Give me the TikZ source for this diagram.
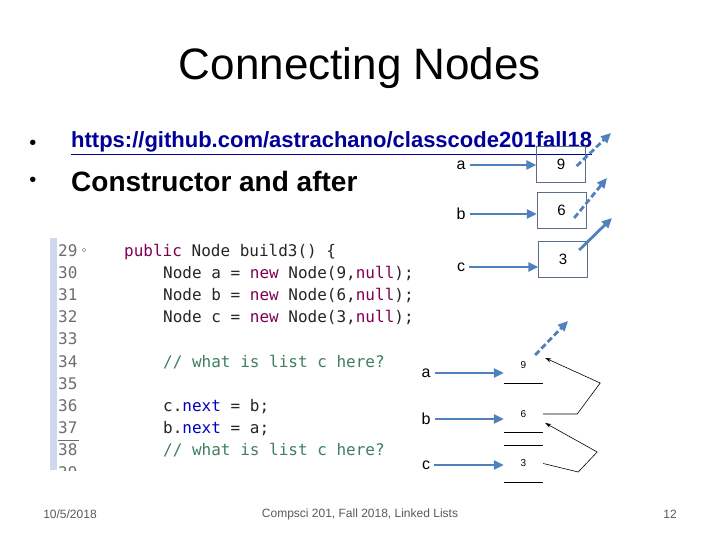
\documentclass[tikz,border=0pt]{standalone}
\usepackage{fontspec}
\setmainfont{Liberation Sans}
\setmonofont{DejaVu Sans Mono}
\usetikzlibrary{arrows.meta}
\definecolor{arrowblue}{RGB}{79,129,189}
\definecolor{boxgray}{RGB}{90,110,140}
\definecolor{kw}{RGB}{127,0,85}
\definecolor{fld}{RGB}{0,0,192}
\definecolor{cmt}{RGB}{63,127,95}
\definecolor{lnum}{RGB}{110,110,110}
\definecolor{lnk}{RGB}{0,0,153}
\definecolor{footgray}{RGB}{90,90,90}
\definecolor{gutter}{RGB}{205,218,238}

\begin{document}
\begin{tikzpicture}[x=1pt, y=-1pt,
    ptr/.style={-{Triangle[length=10pt,width=9pt]}, line width=2.8pt, draw=arrowblue},
    nxt/.style={ptr, dash pattern=on 6pt off 3pt},
    cell/.style={draw=boxgray, minimum width=49pt, minimum height=36pt, inner sep=0pt, font=\fontsize{15}{17}\selectfont},
    var/.style={font=\fontsize{16}{18}\selectfont, inner sep=0pt},
    slot/.style={minimum width=39pt, minimum height=36pt, inner sep=0pt, font=\fontsize{10}{12}\selectfont},
    back/.style={-{Stealth[length=6pt,width=4pt]}, line width=0.6pt},
    code/.style={anchor=base west, inner sep=0pt, font=\ttfamily\fontsize{16}{18}\selectfont, text=black!85},
    foot/.style={font=\fontsize{12}{14}\selectfont, text=footgray}]
  \useasboundingbox (0,0) rectangle (720,540);
  \fill[white] (0,0) rectangle (720,540);

  % title and bullets
  \node[font=\fontsize{44}{50}\selectfont] (title) at (360,68) {Connecting Nodes};
  \node[font=\fontsize{20}{22}\selectfont] (d1) at (33,145) {•};
  \node[anchor=west, inner sep=0pt, font=\bfseries\fontsize{22}{26}\selectfont, text=lnk] (url) at (71,143) {\underline{https://github.com/astrachano/classcode201fall18}};
  \node[font=\fontsize{20}{22}\selectfont] (d2) at (33,182) {•};
  \node[anchor=west, inner sep=0pt, font=\bfseries\fontsize{28}{32}\selectfont] (sub) at (71,181) {Constructor and after};

  % code listing
  \begin{scope}
    \clip (40,236) rectangle (430,470);
    \fill[gutter] (50,238) rectangle (57,470);
    \foreach \n [count=\i from 0] in {29,...,39}
      \node[code, text=lnum] (l\n) at (58,256+22.2*\i) {\n};
  \end{scope}
  \draw[lnum] (84,250) circle (1.8);
  \draw[lnum, line width=0.8pt] (58,440) -- (79,440);
  \node[code] (c29) at (124,256) {\textcolor{kw}{public} Node build3() \{};
  \node[code] (c30) at (163,278.2) {Node a = \textcolor{kw}{new} Node(9,\textcolor{kw}{null});};
  \node[code] (c31) at (163,300.4) {Node b = \textcolor{kw}{new} Node(6,\textcolor{kw}{null});};
  \node[code] (c32) at (163,322.6) {Node c = \textcolor{kw}{new} Node(3,\textcolor{kw}{null});};
  \node[code, text=cmt] (c34) at (163,367) {// what is list c here?};
  \node[code] (c36) at (163,411.4) {c.\textcolor{fld}{next} = b;};
  \node[code] (c37) at (163,433.6) {b.\textcolor{fld}{next} = a;};
  \node[code, text=cmt] (c38) at (163,455.8) {// what is list c here?};

  % after the constructor
  \node[var] (ta) at (461,165) {a};
  \node[var] (tb) at (461,214) {b};
  \node[var] (tc) at (461,267) {c};
  \node[cell] (b9) at (561,164.5) {9};
  \node[cell] (b6) at (561.5,210.5) {6};
  \node[cell] (b3) at (563,259.5) {3};
  \draw[ptr] ([xshift=4pt]ta.east) -- (ta.east -| b9.west);
  \draw[ptr] ([xshift=4pt]tb.east) -- (tb.east -| b6.west);
  \draw[ptr] ([xshift=4pt]tc.east) -- (tc.east -| b3.west);
  \coordinate (e9) at (611,133);
  \coordinate (e6) at (607,178);
  \coordinate (e3) at (612,218);
  \draw[nxt] ([xshift=-9pt,yshift=-1.5pt]b9.east) -- (e9);
  \draw[nxt] ([xshift=-12pt,yshift=-7.5pt]b6.east) -- (e6);
  \draw[ptr] ([xshift=-8.5pt,yshift=9.5pt]b3.east) -- (e3);

  % after the links
  \node[var] (ma) at (426,373) {a};
  \node[var] (mb) at (426,419) {b};
  \node[var] (mc) at (426,465) {c};
  \node[slot] (m9) at (523.5,365) {9};
  \node[slot] (m6) at (523.5,414) {6};
  \node[slot] (m3) at (523.5,463.5) {3};
  \draw (m9.south west) -- (m9.south east);
  \draw (m6.south west) -- (m6.south east);
  \draw (m3.north west) -- (m3.north east);
  \draw (m3.south west) -- (m3.south east);
  \draw[ptr] ([xshift=4pt]ma.east) -- (ma.east -| m9.west);
  \draw[ptr] ([xshift=4pt]mb.east) -- (mb.east -| m6.west);
  \draw[ptr] ([xshift=4pt]mc.east) -- (mc.east -| m3.west);
  \coordinate (f9) at (568,321);
  \draw[nxt] ([xshift=-8pt,yshift=10pt]m9.east) -- (f9);
  \draw[back] (m6.east) -- ++(34,0) -- ++(23,-31) -- ([xshift=2pt,yshift=7pt]m9.east);
  \draw[back] (m3.east) -- ++(35,8.5) -- ++(19,-20) -- ([xshift=2pt,yshift=-9pt]m6.east);

  % footer
  \node[foot] (date) at (70,514) {10/5/2018};
  \node[foot] (course) at (360,514) {Compsci 201, Fall 2018, Linked Lists};
  \node[foot] (page) at (670,514) {12};
\end{tikzpicture}
\end{document}
